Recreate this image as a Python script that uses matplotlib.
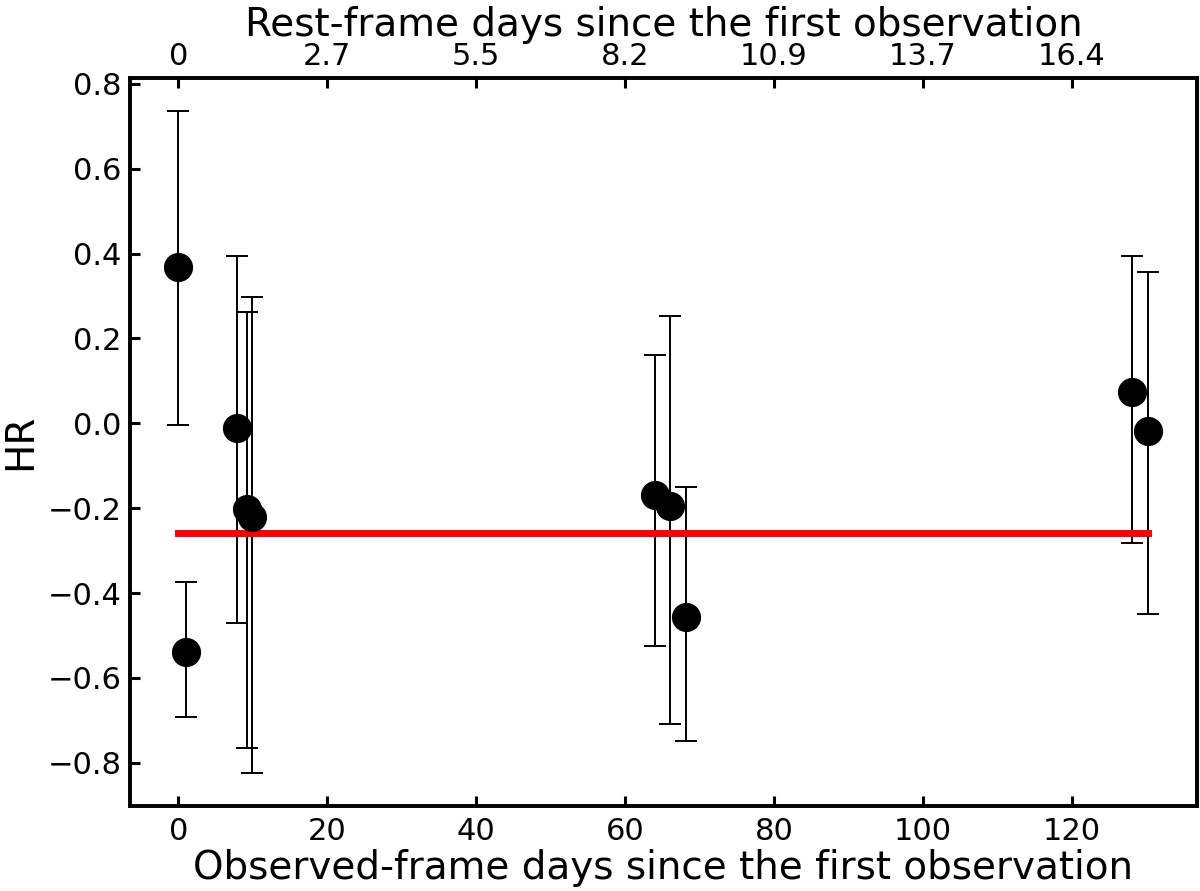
import matplotlib

matplotlib.use("Agg")

import matplotlib.pyplot as plt
import numpy as np

# Observed-frame epochs (days) and hardness ratio with asymmetric error bounds
obs_days = np.array([0.0, 1.0, 7.8, 9.2, 9.9, 64.0, 66.0, 68.2, 128.1, 130.3])
hr = np.array([0.368, -0.538, -0.012, -0.203, -0.222, -0.170, -0.195, -0.456, 0.073, -0.019])
hr_upper = np.array([0.736, -0.375, 0.394, 0.262, 0.297, 0.160, 0.253, -0.151, 0.394, 0.356])
hr_lower = np.array([-0.005, -0.692, -0.470, -0.765, -0.824, -0.524, -0.708, -0.748, -0.281, -0.449])
hr_mean = -0.258

top_tick_pos = [0, 20, 40, 60, 80, 100, 120]
top_tick_labels = ["0", "2.7", "5.5", "8.2", "10.9", "13.7", "16.4"]

plt.rcParams["font.family"] = "DejaVu Sans"

fig = plt.figure(figsize=(12, 8.91), dpi=100)
ax = fig.add_axes([0.1083, 0.0954, 0.8892, 0.8171])

yerr = [hr - hr_lower, hr_upper - hr]
ax.errorbar(
    obs_days,
    hr,
    yerr=yerr,
    fmt="o",
    color="black",
    markersize=20,
    elinewidth=1.4,
    capsize=8,
    capthick=1.4,
)
ax.plot([obs_days[0], obs_days[-1]], [hr_mean, hr_mean], color="red", linewidth=5)

ax.set_xticks([0, 20, 40, 60, 80, 100, 120])
ax.set_yticks([-0.8, -0.6, -0.4, -0.2, 0.0, 0.2, 0.4, 0.6, 0.8])
ax.tick_params(
    axis="both", direction="in", length=7, width=2.2, labelsize=22,
    right=False, top=False,
)
ax.tick_params(axis="x", pad=8)
ax.tick_params(axis="y", pad=6)
ax.set_xlabel("Observed-frame days since the first observation", fontsize=28, labelpad=2)
ax.set_ylabel("HR", fontsize=28, labelpad=6)
for spine in ax.spines.values():
    spine.set_linewidth(2.6)

ax2 = ax.twiny()
ax2.set_xlim(ax.get_xlim())
ax2.set_xticks(top_tick_pos)
ax2.set_xticklabels(top_tick_labels)
ax2.tick_params(axis="x", direction="in", length=7, width=2.2, labelsize=22, pad=5)
ax2.set_xlabel("Rest-frame days since the first observation", fontsize=28, labelpad=4)
for spine in ax2.spines.values():
    spine.set_linewidth(2.6)

fig.savefig("out.png", dpi=100)
